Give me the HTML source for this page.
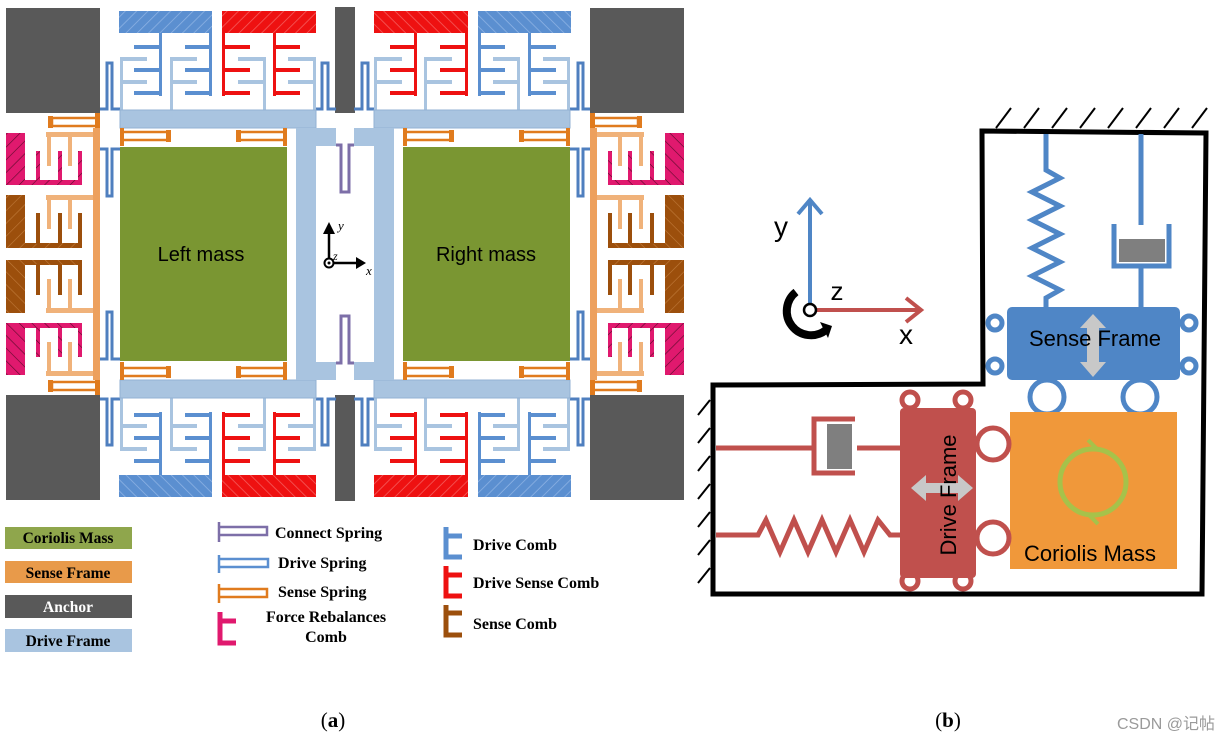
<!DOCTYPE html>
<html><head><meta charset="utf-8"><style>
html,body{margin:0;padding:0;background:#fff;}
svg{display:block}
.lg{font-family:"Liberation Serif",serif;font-weight:bold;font-size:16px}
.lb{font-family:"Liberation Serif",serif;font-weight:bold;font-size:15.5px}
</style></head><body>
<svg width="1222" height="745" viewBox="0 0 1222 745" xmlns="http://www.w3.org/2000/svg">
<defs>
<pattern id="hb" width="8" height="8" patternUnits="userSpaceOnUse" patternTransform="rotate(45)"><rect width="8" height="8" fill="#5b8fd0"/><line x1="0" y1="0" x2="0" y2="8" stroke="#8fb4e4" stroke-width="1.5"/></pattern>
<pattern id="hr" width="8" height="8" patternUnits="userSpaceOnUse" patternTransform="rotate(45)"><rect width="8" height="8" fill="#ee1111"/><line x1="0" y1="0" x2="0" y2="8" stroke="#f56060" stroke-width="1.5"/></pattern>
<pattern id="hp" width="9" height="9" patternUnits="userSpaceOnUse" patternTransform="rotate(45)"><rect width="9" height="9" fill="#e0196e"/><line x1="0" y1="0" x2="0" y2="9" stroke="#5a0a2a" stroke-width="1.2"/></pattern>
<pattern id="hn" width="9" height="9" patternUnits="userSpaceOnUse" patternTransform="rotate(45)"><rect width="9" height="9" fill="#9c4f0c"/><line x1="0" y1="0" x2="0" y2="9" stroke="#c07a3a" stroke-width="1.2"/></pattern>
<g id="Q">
 <rect x="6" y="8" width="94" height="105" fill="#595959"/>
 <rect x="335" y="7" width="11" height="106" fill="#595959"/>
 <rect x="119" y="11" width="93" height="22" fill="url(#hb)"/>
 <g fill="#5b8fd0">
  <rect x="159" y="33" width="3" height="63"/><rect x="209" y="33" width="3" height="63"/>
  <rect x="134" y="45" width="26" height="4"/><rect x="134" y="68" width="26" height="4"/><rect x="134" y="91" width="26" height="4"/>
  <rect x="185" y="45" width="25" height="4"/><rect x="185" y="68" width="25" height="4"/><rect x="185" y="91" width="25" height="4"/>
 </g>
 <rect x="222" y="11" width="94" height="22" fill="url(#hr)"/>
 <g fill="#ee1111">
  <rect x="222" y="33" width="3" height="63"/><rect x="273" y="33" width="3" height="63"/>
  <rect x="224" y="45" width="26" height="4"/><rect x="224" y="68" width="26" height="4"/><rect x="224" y="91" width="26" height="4"/>
  <rect x="275" y="45" width="25" height="4"/><rect x="275" y="68" width="25" height="4"/><rect x="275" y="91" width="25" height="4"/>
 </g>
 <g fill="#a9c4e0">
  <rect x="120" y="57" width="3" height="53"/><rect x="170" y="57" width="3" height="53"/><rect x="263" y="57" width="3" height="53"/><rect x="313" y="57" width="3" height="53"/>
  <rect x="122" y="57" width="25" height="4"/><rect x="122" y="80" width="25" height="4"/>
  <rect x="172" y="57" width="25" height="4"/><rect x="172" y="80" width="25" height="4"/>
  <rect x="238" y="57" width="26" height="4"/><rect x="238" y="80" width="26" height="4"/>
  <rect x="288" y="57" width="26" height="4"/><rect x="288" y="80" width="26" height="4"/>
 </g>
 <path d="M100 109 H107 V63 H112 V109 H120" fill="none" stroke="#4f7fbf" stroke-width="3"/>
 <path d="M316 109 H322 V63 H328 V109 H336" fill="none" stroke="#4f7fbf" stroke-width="3"/>
 <path d="M100 149 H107 V196 H112 V149 H120" fill="none" stroke="#4f7fbf" stroke-width="3"/>
 <rect x="120" y="110" width="196" height="18" fill="#a9c4e0" stroke="#93b2d3" stroke-width="1"/>
 <rect x="296" y="128" width="20" height="127" fill="#a9c4e0"/>
 <rect x="316" y="128" width="20" height="18" fill="#a9c4e0"/>
 <path d="M336 145 H341 V192 H346" fill="none" stroke="#7d6fa8" stroke-width="3"/>
 <rect x="120" y="147" width="167" height="108" fill="#7a9632"/>
 <g fill="none" stroke="#e07b1e" stroke-width="2.5">
  <path d="M122 132 H168 V140 H122"/><path d="M285 132 H238 V140 H285"/>
  <path d="M98 118 H52 V126 H98"/>
 </g>
 <g fill="#e07b1e">
  <rect x="120" y="128" width="4" height="18"/><rect x="283" y="128" width="4" height="18"/>
  <rect x="166" y="130" width="5" height="12"/><rect x="236" y="130" width="5" height="12"/>
  <rect x="95" y="113" width="5" height="17"/><rect x="48" y="116" width="5" height="12"/>
 </g>
 <rect x="93" y="128" width="7" height="127" fill="#eda05d"/>
 <g fill="#f0b27a">
  <rect x="46" y="132" width="47" height="5"/><rect x="47" y="137" width="4" height="29"/><rect x="68" y="137" width="4" height="29"/>
  <rect x="46" y="195" width="47" height="5"/><rect x="47" y="200" width="4" height="29"/><rect x="68" y="200" width="4" height="29"/>
 </g>
 <path d="M6 133 H25 V180 H82 V185 H6 Z" fill="url(#hp)"/>
 <g fill="url(#hp)"><rect x="36" y="151" width="4" height="30"/><rect x="58" y="151" width="4" height="30"/><rect x="78" y="151" width="4" height="30"/></g>
 <path d="M6 195 H25 V243 H82 V248 H6 Z" fill="url(#hn)"/>
 <g fill="#9c4f0c"><rect x="36" y="213" width="4" height="31"/><rect x="58" y="213" width="4" height="31"/><rect x="78" y="213" width="4" height="31"/></g>
</g>
</defs>
<use href="#Q"/>
<use href="#Q" transform="matrix(-1 0 0 1 690 0)"/>
<use href="#Q" transform="matrix(1 0 0 -1 0 508)"/>
<use href="#Q" transform="matrix(-1 0 0 -1 690 508)"/>
<text x="201" y="261" font-family="Liberation Sans,sans-serif" font-size="20" text-anchor="middle">Left mass</text>
<text x="486" y="261" font-family="Liberation Sans,sans-serif" font-size="20" text-anchor="middle">Right mass</text>
<line x1="329" y1="263" x2="329" y2="232" stroke="#000" stroke-width="2.5"/>
<polygon points="323,234 335,234 329,222" fill="#000"/>
<line x1="329" y1="263" x2="358" y2="263" stroke="#000" stroke-width="2.5"/>
<polygon points="356,257 356,269 366,263" fill="#000"/>
<circle cx="329" cy="263" r="4.5" fill="#fff" stroke="#000" stroke-width="2"/><circle cx="329" cy="263" r="1.5"/>
<text x="338" y="230" font-family="Liberation Serif,serif" font-style="italic" font-size="13">y</text>
<text x="333" y="260" font-family="Liberation Serif,serif" font-style="italic" font-size="12">z</text>
<text x="366" y="275" font-family="Liberation Serif,serif" font-style="italic" font-size="13">x</text>
<!-- legend -->
<rect x="5" y="527" width="127" height="22" fill="#8fa64c"/>
<text x="68" y="543" class="lb" text-anchor="middle">Coriolis Mass</text>
<rect x="5" y="561" width="127" height="22" fill="#e89a4a"/>
<text x="68" y="578" class="lb" text-anchor="middle">Sense Frame</text>
<rect x="5" y="595" width="127" height="23" fill="#595959"/>
<text x="68" y="612" class="lb" text-anchor="middle" fill="#fff">Anchor</text>
<rect x="5" y="629" width="127" height="23" fill="#a9c4e0"/>
<text x="68" y="646" class="lb" text-anchor="middle">Drive Frame</text>
<g fill="none" stroke-width="2.5">
<path d="M219 522 V542 M219 527 H267 V535 H219" stroke="#7d6fa8"/>
<path d="M219 555 V573 M219 559 H268 V567 H219" stroke="#5b8fd0"/>
<path d="M219 584 V603 M219 589 H267 V597 H219" stroke="#e07b1e"/>
</g>
<path d="M220 612 V643 H236 M220 621 H236" fill="none" stroke="#e0196e" stroke-width="5"/>
<path d="M446 527 V557 H462 M446 536 H462" fill="none" stroke="#5b8fd0" stroke-width="5"/>
<path d="M446 566 V596 H462 M446 575 H462" fill="none" stroke="#ee1111" stroke-width="5"/>
<path d="M446 605 V635 H462 M446 613 H462" fill="none" stroke="#9c4f0c" stroke-width="5"/>
<text x="275" y="538" class="lg">Connect Spring</text>
<text x="278" y="568" class="lg">Drive Spring</text>
<text x="278" y="597" class="lg">Sense Spring</text>
<text x="326" y="622" class="lg" text-anchor="middle">Force Rebalances</text>
<text x="326" y="642" class="lg" text-anchor="middle">Comb</text>
<text x="473" y="550" class="lg">Drive Comb</text>
<text x="473" y="588" class="lg">Drive Sense Comb</text>
<text x="473" y="629" class="lg">Sense Comb</text>
<text x="333" y="727" font-family="Liberation Serif,serif" font-size="21" text-anchor="middle">(<tspan font-weight="bold">a</tspan>)</text>
<text x="948" y="727" font-family="Liberation Serif,serif" font-size="21" text-anchor="middle">(<tspan font-weight="bold">b</tspan>)</text>
<text x="1215" y="729" font-family="Liberation Sans,'Noto Sans CJK SC',sans-serif" font-size="16" fill="#9a9a9a" text-anchor="end">CSDN @记帖</text>
<!-- panel b -->
<g stroke="#000" stroke-width="2">
<path d="M996 128 l15 -20 M1024 128 l15 -20 M1052 128 l15 -20 M1080 128 l15 -20 M1108 128 l15 -20 M1136 128 l15 -20 M1164 128 l15 -20 M1192 128 l15 -20"/>
<path d="M710 400 l-12 15 M710 428 l-12 15 M710 456 l-12 15 M710 484 l-12 15 M710 512 l-12 15 M710 540 l-12 15 M710 568 l-12 15"/>
</g>
<path d="M982 131 L1206 133 L1202 594 L713 594 L713 385 L983 384 Z" fill="none" stroke="#000" stroke-width="5"/>
<path d="M1046 134 V170 L1060 178 L1032 192 L1060 206 L1032 220 L1060 234 L1032 248 L1060 262 L1032 276 L1060 290 L1046 298 V308" fill="none" stroke="#4f86c6" stroke-width="5"/>
<path d="M1141 134 V225 M1114 224 V266 H1169 V224 M1141 266 V308" fill="none" stroke="#4f86c6" stroke-width="5"/>
<rect x="1119" y="239" width="46" height="23" fill="#7f7f7f"/>
<g fill="#fff" stroke="#4f86c6" stroke-width="5">
<circle cx="995" cy="323" r="7"/><circle cx="995" cy="366" r="7"/><circle cx="1189" cy="323" r="7"/><circle cx="1189" cy="366" r="7"/>
<circle cx="1047" cy="397" r="17"/><circle cx="1140" cy="397" r="17"/>
</g>
<rect x="1007" y="307" width="173" height="73" rx="5" fill="#4f86c6"/>
<polygon points="1093,314 1106,328 1099,328 1099,362 1106,362 1093,377 1080,362 1087,362 1087,328 1080,328" fill="#c8c8c8"/>
<text x="1095" y="346" font-family="Liberation Sans,sans-serif" font-size="22" text-anchor="middle">Sense Frame</text>
<rect x="1010" y="412" width="167" height="157" fill="#f0983a"/>
<circle cx="1093" cy="482" r="33" fill="none" stroke="#a6c24a" stroke-width="5"/>
<path d="M1082 450 l14 -2 l-8 -8 M1104 514 l-14 2 l8 8" fill="none" stroke="#a6c24a" stroke-width="4"/>
<text x="1090" y="561" font-family="Liberation Sans,sans-serif" font-size="22" text-anchor="middle">Coriolis Mass</text>
<path d="M716 448 H814 M855 419 H814 V473 H855 M857 448 H900" fill="none" stroke="#c0504d" stroke-width="5"/>
<rect x="827" y="424" width="25" height="45" fill="#7f7f7f"/>
<path d="M716 535 H758 L766 520 L780 552 L794 520 L808 552 L822 520 L836 552 L850 520 L864 552 L878 520 L890 535 H900" fill="none" stroke="#c0504d" stroke-width="5"/>
<g fill="#fff" stroke="#c0504d" stroke-width="5">
<circle cx="910" cy="400" r="8"/><circle cx="963" cy="400" r="8"/><circle cx="910" cy="581" r="8"/><circle cx="963" cy="581" r="8"/>
<circle cx="993" cy="444" r="16"/><circle cx="993" cy="538" r="16"/>
</g>
<rect x="900" y="408" width="76" height="170" rx="4" fill="#c0504d"/>
<polygon points="911,488 926,475 926,483 958,483 958,475 973,488 958,501 958,493 926,493 926,501" fill="#c8c8c8"/>
<text x="0" y="0" transform="translate(956,495) rotate(-90)" font-family="Liberation Sans,sans-serif" font-size="22" text-anchor="middle">Drive Frame</text>
<line x1="810" y1="310" x2="810" y2="202" stroke="#4f86c6" stroke-width="4"/>
<path d="M798 214 L810 200 L822 214" fill="none" stroke="#4f86c6" stroke-width="4"/>
<line x1="810" y1="310" x2="920" y2="310" stroke="#c0504d" stroke-width="4"/>
<path d="M906 298 L921 310 L906 322" fill="none" stroke="#c0504d" stroke-width="4"/>
<path d="M796 292 A20 20 0 1 0 826 330" fill="none" stroke="#000" stroke-width="8"/>
<polygon points="820,322 832,326 828,338" fill="#000"/>
<circle cx="810" cy="310" r="6" fill="#fff" stroke="#000" stroke-width="2.5"/>
<text x="781" y="236" font-family="Liberation Sans,sans-serif" font-size="28" text-anchor="middle">y</text>
<text x="837" y="300" font-family="Liberation Sans,sans-serif" font-size="26" text-anchor="middle">z</text>
<text x="906" y="344" font-family="Liberation Sans,sans-serif" font-size="28" text-anchor="middle">x</text>
</svg>
</body></html>
